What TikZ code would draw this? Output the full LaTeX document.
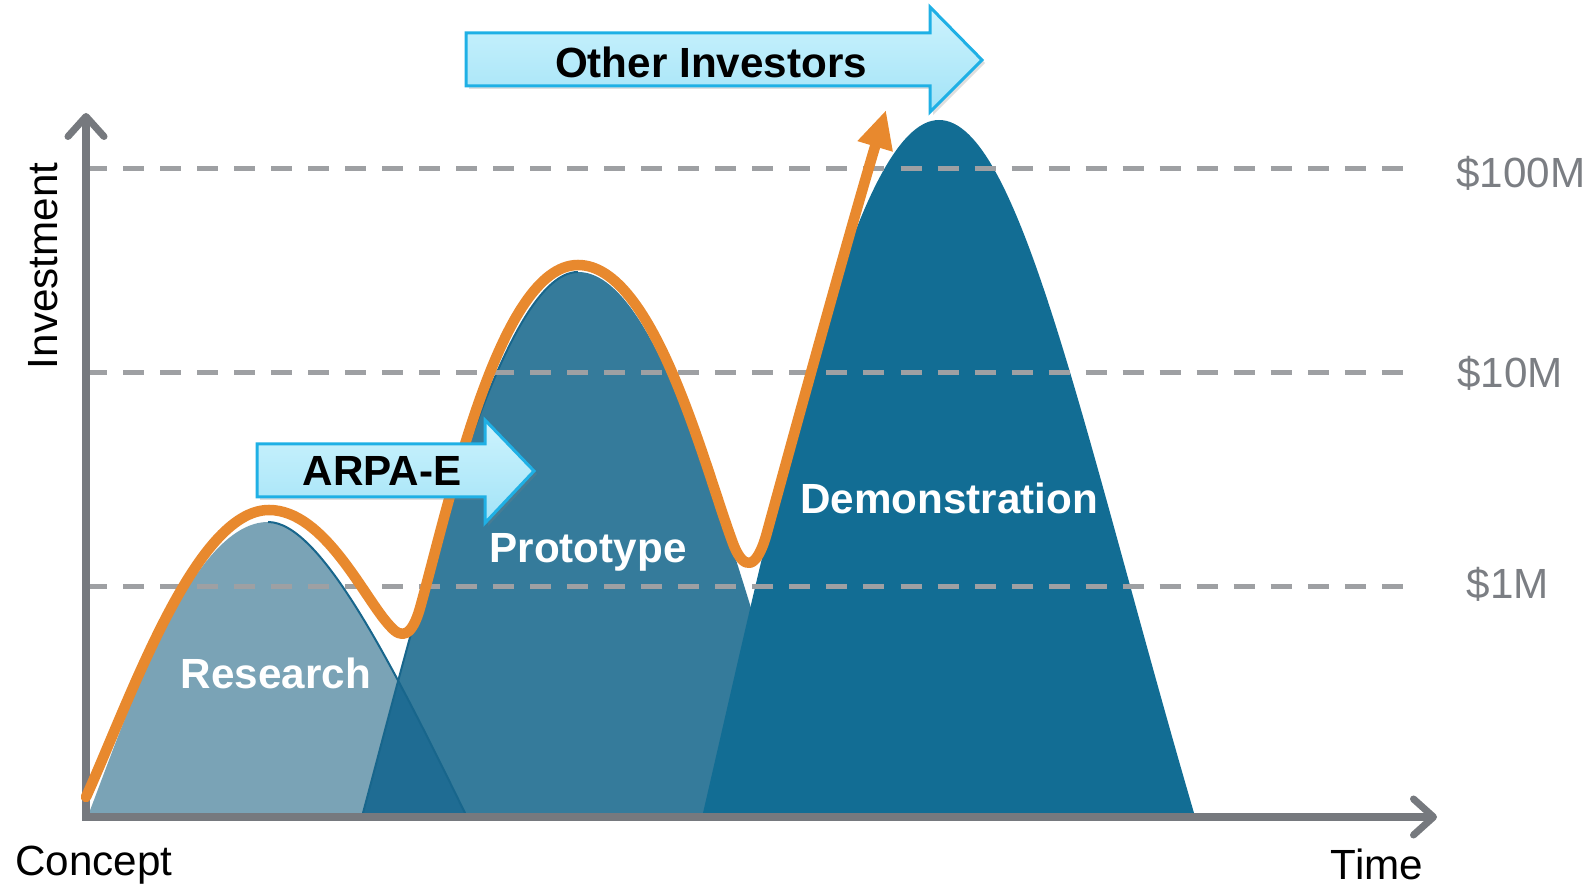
\documentclass[tikz,border=0pt]{standalone}
\usepackage{fontspec}
\setmainfont{Liberation Sans}
\usetikzlibrary{arrows.meta,shadows}
\definecolor{researchblue}{HTML}{7AA3B6}
\definecolor{protoblue}{HTML}{357B9B}
\definecolor{demoblue}{HTML}{126D94}
\definecolor{overlapblue}{HTML}{1F6C93}
\definecolor{edgeblue}{HTML}{18668C}
\definecolor{fundorange}{HTML}{E8892E}
\definecolor{axisgray}{HTML}{76797E}
\definecolor{dashgray}{HTML}{9EA0A3}
\definecolor{moneygray}{HTML}{7B7E83}
\definecolor{bandtop}{HTML}{CDF3FD}
\definecolor{bandbottom}{HTML}{A2E3F7}
\definecolor{bandedge}{HTML}{1FB0E5}

\begin{document}
\begin{tikzpicture}[
    x=0.01cm, y=-0.01cm,
    axis/.style={line width=0.07cm, draw=axisgray, line join=miter,
      {Straight Barb[round, length=0.2cm, width=0.36cm]}-{Straight Barb[round, length=0.2cm, width=0.36cm]}},
    level/.style={line width=0.05cm, draw=dashgray, dash pattern=on 0.21cm off 0.16cm},
    funding/.style={line width=0.105cm, draw=fundorange, line cap=round, line join=round,
      -{Triangle[length=0.38cm, width=0.34cm]}},
    band/.style={top color=bandtop, bottom color=bandbottom, draw=bandedge, line width=0.03cm,
      drop shadow={opacity=0.25, shadow xshift=0.03cm, shadow yshift=-0.03cm}},
    bandtext/.style={font=\bfseries\fontsize{12}{14}\selectfont, text=black},
    phase/.style={font=\bfseries\fontsize{12}{14}\selectfont, text=white},
    money/.style={font=\fontsize{12}{14}\selectfont, text=moneygray},
    axislabel/.style={font=\fontsize{12}{14}\selectfont, text=black}
]
  \useasboundingbox (0,0) rectangle (1591,886);

  % Phases
  \fill[researchblue] (89,813) .. controls (125,720) and (190,522) .. (268,522)
    .. controls (320,522) and (390,660) .. (465,813) -- cycle;
  \fill[protoblue] (363,813) .. controls (420,600) and (500,272) .. (578,272)
    .. controls (655,272) and (720,500) .. (812,813) -- cycle;
  \begin{scope}
    \clip (89,813) .. controls (125,720) and (190,522) .. (268,522)
      .. controls (320,522) and (390,660) .. (465,813) -- cycle;
    \fill[overlapblue] (363,813) .. controls (420,600) and (500,272) .. (578,272)
      .. controls (655,272) and (720,500) .. (812,813) -- cycle;
  \end{scope}
  \draw[edgeblue, line width=0.02cm] (268,522) .. controls (320,522) and (390,660) .. (465,813);
  \draw[edgeblue, line width=0.02cm] (363,813) .. controls (420,600) and (500,272) .. (578,272);
  \fill[demoblue] (703,813) .. controls (780,480) and (855,120) .. (939,120)
    .. controls (1020,120) and (1085,440) .. (1194,813) -- cycle;

  % Levels
  \draw[level] (86,169) -- (1415,169);
  \draw[level] (86,373) -- (1415,373);
  \draw[level] (86,587) -- (1415,587);

  % Axes
  \coordinate (ytop) at (86,113);
  \coordinate (origin) at (86,817);
  \coordinate (xend) at (1437,817);
  \draw[axis] (ytop) -- (origin) -- (xend);

  % Funding path
  \draw[funding] (86,797) .. controls (130,700) and (195,510) .. (269,510)
    .. controls (325,510) and (365,600) .. (390,626)
    .. controls (402,640) and (412,636) .. (420,608)
    .. controls (450,500) and (500,265) .. (578,265)
    .. controls (655,265) and (705,470) .. (734,546)
    .. controls (744,570) and (756,570) .. (766,536)
    .. controls (795,430) and (850,230) .. (886,110);

  % Investors
  \shade[band] (257,444) -- (485,444) -- (485,420) -- (534,471) -- (485,523) -- (485,497) -- (257,497) -- cycle;
  \node[bandtext] (arpae) at (382,471) {ARPA-E};
  \shade[band] (466,33) -- (930,33) -- (930,7) -- (982,60) -- (930,112) -- (930,86) -- (466,86) -- cycle;
  \node[bandtext] (others) at (711,62) {Other Investors};

  % Labels
  \node[phase] (research) at (276,673) {Research};
  \node[phase] (prototype) at (588,552) {Prototype};
  \node[phase] (demo) at (949,498) {Demonstration};
  \node[money] (m100) at (1521,173) {\$100M};
  \node[money] (m10) at (1510,373) {\$10M};
  \node[money] (m1) at (1508,584) {\$1M};
  \node[axislabel, rotate=90] (invest) at (43,266) {Investment};
  \node[axislabel] (concept) at (94,865) {Concept};
  \node[axislabel] (time) at (1377,864) {Time};
\end{tikzpicture}
\end{document}
